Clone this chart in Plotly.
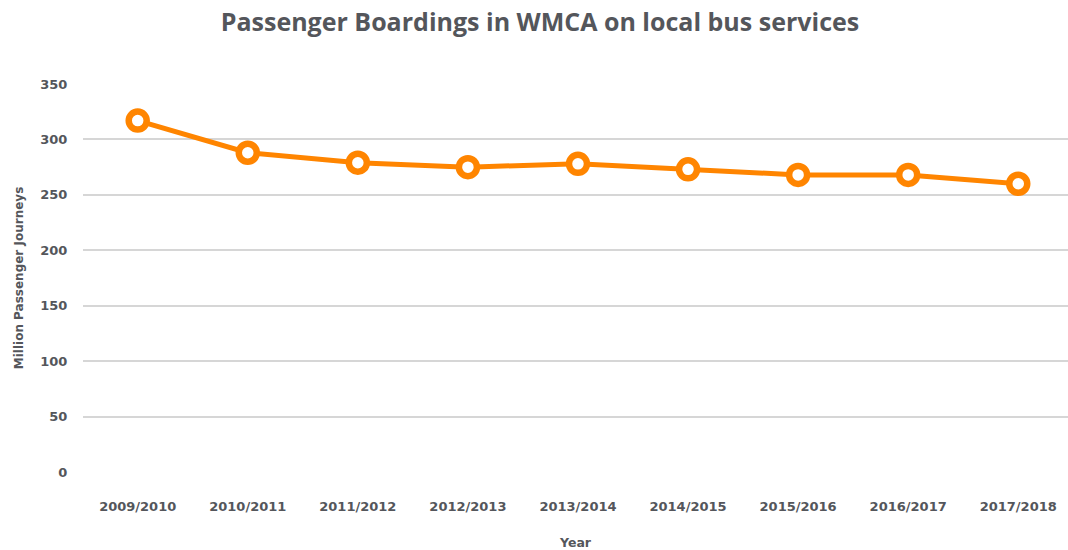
import plotly.graph_objects as go

years = ["2009/2010", "2010/2011", "2011/2012", "2012/2013", "2013/2014",
         "2014/2015", "2015/2016", "2016/2017", "2017/2018"]
boardings = [317, 288, 279, 275, 278, 273, 268, 268, 260]
y_ticks = [0, 50, 100, 150, 200, 250, 300, 350]

ORANGE = "#FF8500"
TEXT = "#54565B"
GRID = "#D6D6D6"
TITLE_FONT = "'Open Sans', sans-serif"
FONT = "'DejaVu Sans', sans-serif"

fig = go.Figure(go.Scatter(
    x=list(range(len(years))), y=boardings, mode="lines+markers",
    line=dict(color=ORANGE, width=5),
    marker=dict(size=18, color="white", line=dict(color=ORANGE, width=6.5)),
    cliponaxis=False, hoverinfo="x+y",
))

fig.update_layout(
    width=1068, height=550,
    margin=dict(l=83, r=0, t=84, b=78),
    paper_bgcolor="white", plot_bgcolor="white",
    showlegend=False,
    font=dict(family=FONT, color=TEXT),
    title=dict(text="<b>Passenger Boardings in WMCA on local bus services</b>",
               x=0.5056, xanchor="center", y=0.96, yanchor="middle",
               font=dict(size=25, color=TEXT, family=TITLE_FONT)),
    xaxis=dict(
        tickmode="array", tickvals=list(range(len(years))), ticktext=years,
        range=[-0.497, 8.452], showgrid=False, zeroline=False, showline=False,
        automargin=False,
        ticks="outside", ticklen=22, tickcolor="rgba(0,0,0,0)",
        tickfont=dict(size=13, color=TEXT, family=FONT, weight="bold"),
        title=dict(text="<b>Year</b>", font=dict(size=12.5, color=TEXT, family=FONT), standoff=27),
    ),
    yaxis=dict(
        range=[0, 350], tickvals=y_ticks, showgrid=True, gridcolor=GRID, gridwidth=2,
        zeroline=False, showline=False, automargin=False,
        ticks="outside", ticklen=12, tickcolor="rgba(0,0,0,0)",
        tickfont=dict(size=13, color=TEXT, family=FONT, weight="bold"),
        title=dict(text="<b>Million Passenger Journeys</b>", font=dict(size=12, color=TEXT, family=FONT), standoff=14),
    ),
)

fig.write_html("out.html", config={"displayModeBar": False},
               post_script="document.body.style.margin='0';document.body.style.overflow='hidden';")
